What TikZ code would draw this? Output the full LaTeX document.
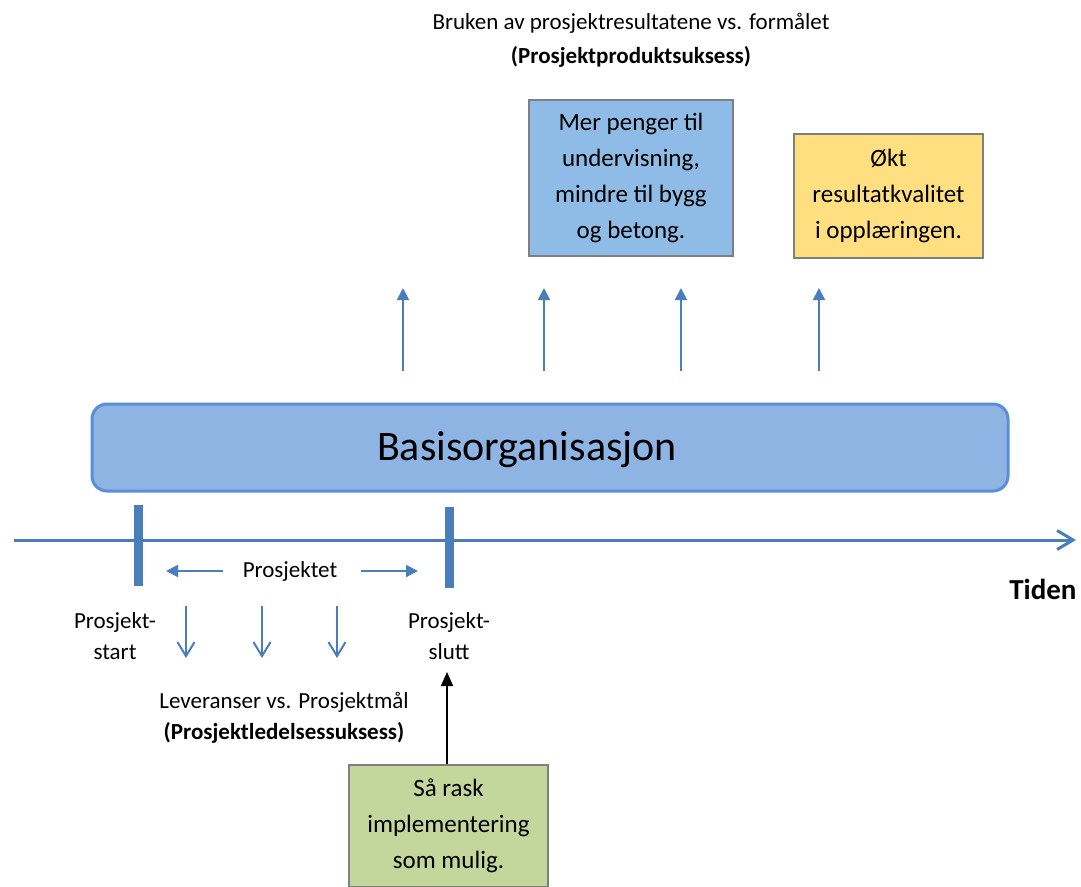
\documentclass[tikz,border=0pt]{standalone}
\usepackage{fontspec}
\setmainfont{Carlito}
\usetikzlibrary{arrows.meta,positioning}

\definecolor{lineblue}{HTML}{4A7EBB}
\definecolor{basisfill}{HTML}{8EB4E3}
\definecolor{basisdraw}{HTML}{5B8FD5}
\definecolor{goalblue}{HTML}{8FBCE6}
\definecolor{goalyellow}{HTML}{FFDF80}
\definecolor{goalgreen}{HTML}{C3D69B}
\definecolor{boxgray}{HTML}{7F7F7F}

\tikzset{
  smalltext/.style={font=\fontsize{23}{31}\selectfont, align=center, inner sep=0pt},
  goalbox/.style={draw=boxgray, line width=2pt, align=center,
    font=\fontsize{25}{36}\selectfont},
  upline/.style={lineblue, line width=2pt, -{Triangle[length=12pt,width=12pt]}},
  downline/.style={lineblue, line width=2pt, -{Straight Barb[length=14pt,width=17pt]}},
  tickbar/.style={lineblue, line width=9pt}
}

\begin{document}
\begin{tikzpicture}[x=1pt,y=-1pt]
  \useasboundingbox (0,0) rectangle (1081,886);
  \clip (0,0) rectangle (1081,886);

  % goals on top
  \node[smalltext, font=\fontsize{23}{34}\selectfont] (usetext) at (631,40)
    {Bruken av prosjektresultatene vs. formålet\\\textbf{(Prosjektproduktsuksess)}};
  \node[goalbox, fill=goalblue, minimum width=204pt, minimum height=156pt] (money) at (631,178)
    {Mer penger til\\undervisning,\\mindre til bygg\\og betong.};
  \node[goalbox, fill=goalyellow, minimum width=189pt, minimum height=124pt] (quality) at (888.5,196)
    {Økt\\resultatkvalitet\\i opplæringen.};

  % base organisation
  \node[draw=basisdraw, fill=basisfill, line width=3pt, rounded corners=15pt,
    minimum width=916pt, minimum height=87pt] (basis) at (550,447.5) {};
  \node[font=\fontsize{42}{48}\selectfont] (basislabel) at (527,450) {Basisorganisasjon};

  % effects upwards
  \foreach \x [count=\i] in {403,544,681,819} {
    \coordinate (up\i a) at (\x,371);
    \coordinate (up\i b) at (\x,288);
    \draw[upline] (up\i a) -- (up\i b);
  }

  % time axis
  \coordinate (t0) at (14,540);
  \coordinate (t1) at (1076,540);
  \draw[lineblue, line width=3pt, -{Straight Barb[length=16pt,width=19pt]}] (t0) -- (t1);
  \node[font=\fontsize{29}{32}\selectfont\bfseries, anchor=east] (tiden) at (1080,589) {Tiden};

  \coordinate (s0) at (138,505);
  \coordinate (s1) at (138,586);
  \coordinate (e0) at (449,507);
  \coordinate (e1) at (449,588);
  \draw[tickbar] (s0) -- (s1);
  \draw[tickbar] (e0) -- (e1);

  % the project
  \node[smalltext] (project) at (290,571) {Prosjektet};
  \coordinate (pl) at (166,571);
  \coordinate (pr) at (418,571);
  \draw[lineblue, line width=2pt, -{Triangle[length=12pt,width=12pt]}] (project.west) ++(-20,0) -- (pl);
  \draw[lineblue, line width=2pt, -{Triangle[length=12pt,width=12pt]}] (project.east) ++(24,0) -- (pr);
  \node[smalltext] (start) at (115,636) {Prosjekt-\\start};
  \node[smalltext] (slutt) at (449,636) {Prosjekt-\\slutt};

  % deliveries downwards
  \foreach \x [count=\i] in {186,262,337} {
    \coordinate (dn\i a) at (\x,606);
    \coordinate (dn\i b) at (\x,658);
    \draw[downline] (dn\i a) -- (dn\i b);
  }
  \node[smalltext] (delivery) at (284,718)
    {Leveranser vs. Prosjektmål\\\textbf{(Prosjektledelsessuksess)}};

  % fast implementation
  \node[goalbox, fill=goalgreen, anchor=north, minimum width=199pt, inner ysep=14pt] (fast) at (448.5,764)
    {Så rask\\implementering\\som mulig.};
  \coordinate (fasttip) at (447,672);
  \draw[line width=1.5pt, -{Triangle[length=14pt,width=12pt]}] (fast.north -| fasttip) -- (fasttip);
\end{tikzpicture}
\end{document}
